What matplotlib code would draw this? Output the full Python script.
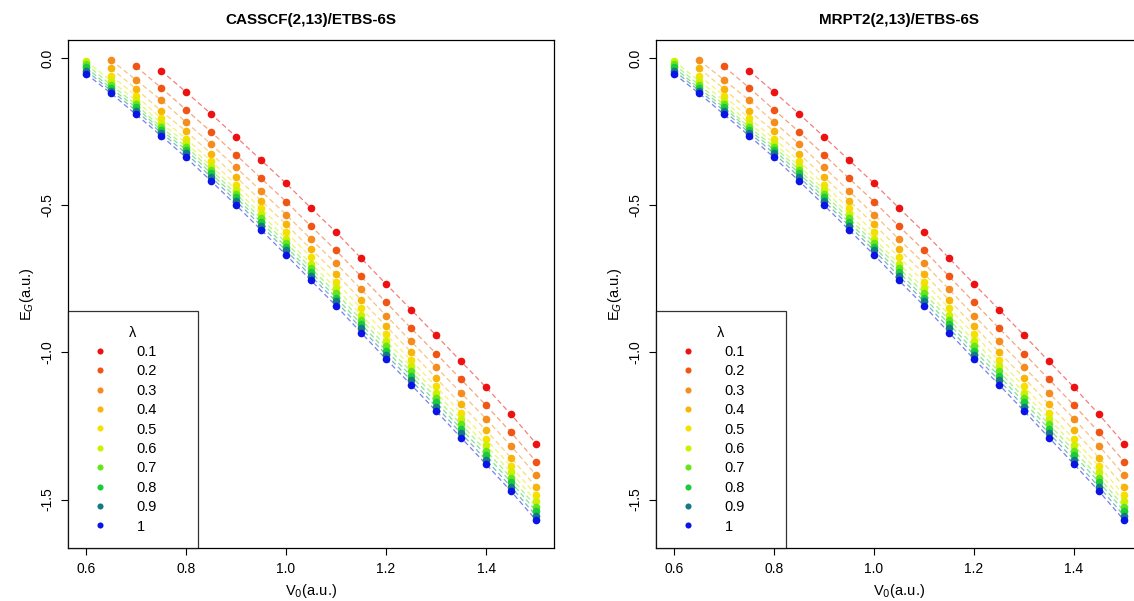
import numpy as np
import matplotlib
matplotlib.use("Agg")
import matplotlib.pyplot as plt

plt.rcParams['font.family'] = ['Liberation Sans', 'DejaVu Sans']

nan = np.nan

# V0 grid (a.u.)
v0 = [0.60, 0.65, 0.70, 0.75, 0.80, 0.85, 0.90, 0.95, 1.00, 1.05,
      1.10, 1.15, 1.20, 1.25, 1.30, 1.35, 1.40, 1.45, 1.50]

lambdas = ["0.1", "0.2", "0.3", "0.4", "0.5", "0.6", "0.7", "0.8", "0.9", "1"]

# ground state energies E_G (a.u.)
e_lam01 = [nan, nan, nan, -0.043, -0.116, -0.190, -0.268, -0.347, -0.426, -0.510,
           -0.592, -0.680, -0.768, -0.855, -0.942, -1.031, -1.119, -1.211, -1.310]
e_lam02 = [nan, nan, -0.029, -0.101, -0.176, -0.251, -0.329, -0.409, -0.488, -0.572,
           -0.654, -0.742, -0.830, -0.918, -1.004, -1.092, -1.180, -1.272, -1.371]
e_lam03 = [nan, -0.007, -0.075, -0.143, -0.218, -0.293, -0.372, -0.452, -0.532, -0.616,
           -0.698, -0.786, -0.875, -0.963, -1.050, -1.138, -1.226, -1.318, -1.417]
e_lam04 = [nan, -0.035, -0.105, -0.180, -0.249, -0.325, -0.404, -0.485, -0.565, -0.650,
           -0.733, -0.822, -0.911, -0.999, -1.087, -1.177, -1.265, -1.358, -1.457]
e_lam05 = [nan, -0.060, -0.128, -0.205, -0.274, -0.350, -0.430, -0.511, -0.592, -0.677,
           -0.761, -0.850, -0.939, -1.027, -1.116, -1.206, -1.295, -1.387, -1.485]
e_lam06 = [-0.010, -0.078, -0.145, -0.222, -0.289, -0.367, -0.448, -0.531, -0.614, -0.699,
           -0.783, -0.872, -0.961, -1.048, -1.137, -1.227, -1.316, -1.408, -1.506]
e_lam07 = [-0.021, -0.092, -0.158, -0.236, -0.301, -0.380, -0.462, -0.545, -0.628, -0.714,
           -0.799, -0.889, -0.979, -1.065, -1.154, -1.245, -1.334, -1.426, -1.524]
e_lam08 = [-0.032, -0.103, -0.168, -0.245, -0.312, -0.392, -0.474, -0.558, -0.642, -0.728,
           -0.814, -0.904, -0.994, -1.080, -1.169, -1.260, -1.349, -1.441, -1.539]
e_lam09 = [-0.043, -0.111, -0.179, -0.254, -0.324, -0.404, -0.486, -0.570, -0.654, -0.741,
           -0.827, -0.918, -1.008, -1.095, -1.184, -1.275, -1.365, -1.457, -1.555]
e_lam10 = [-0.054, -0.120, -0.192, -0.264, -0.338, -0.418, -0.500, -0.584, -0.669, -0.756,
           -0.842, -0.933, -1.023, -1.110, -1.199, -1.290, -1.380, -1.472, -1.570]

energies = [e_lam01, e_lam02, e_lam03, e_lam04, e_lam05,
            e_lam06, e_lam07, e_lam08, e_lam09, e_lam10]

colors = ["#EE1111", "#F05515", "#F58C1E", "#F8B40A", "#F5E000",
          "#CCF000", "#66E61A", "#1ACC3A", "#157A85", "#0A14E6"]

titles = ["CASSCF(2,13)/ETBS-6S", "MRPT2(2,13)/ETBS-6S"]


def draw_panel(ax, title):
    for lam, e, c in zip(lambdas, energies, colors):
        ax.plot(v0, e, color=c, linestyle=(0, (4, 2.5)), linewidth=0.9,
                alpha=0.55, zorder=1)
        ax.plot(v0, e, linestyle="none", marker="o", markersize=5.5,
                color=c, markeredgewidth=0, label=lam, zorder=3)
    ax.set_xlim(0.564, 1.536)
    ax.set_ylim(-1.665, 0.06)
    ax.set_xticks([0.6, 0.8, 1.0, 1.2, 1.4])
    ax.set_xticklabels(["0.6", "0.8", "1.0", "1.2", "1.4"])
    ax.set_yticks([0.0, -0.5, -1.0, -1.5])
    ax.set_yticklabels(["0.0", "-0.5", "-1.0", "-1.5"], rotation=90, va="center")
    ax.tick_params(direction="out", length=5, width=0.8, labelsize=10, pad=5)
    for s in ax.spines.values():
        s.set_linewidth(0.9)
    ax.set_title(title, fontsize=11, fontweight="bold", pad=12)
    ax.set_xlabel(r"V$_0$(a.u.)", fontsize=10.5, labelpad=4)
    ax.set_ylabel(r"E$_G$(a.u.)", fontsize=10.5, labelpad=3)
    # R style legend: box wider than its content, lambda centred on top
    leg = ax.legend(title="λ", loc="lower left", bbox_to_anchor=(0, 0, 0.2675, 0.5),
                    mode="expand", borderaxespad=0, fontsize=10.5,
                    title_fontsize=10.5, frameon=True, fancybox=False,
                    edgecolor="black", markerscale=0.8, handletextpad=1.34,
                    handlelength=2.38, labelspacing=0.37, borderpad=1.0)
    leg.get_frame().set_linewidth(0.9)


fig = plt.figure(figsize=(11.34, 6.01), dpi=100)
ax1 = fig.add_axes([0.060, 0.088, 0.4286, 0.845])
ax2 = fig.add_axes([0.5785, 0.088, 0.4286, 0.845])
draw_panel(ax1, titles[0])
draw_panel(ax2, titles[1])

fig.savefig("out.png", dpi=100)
